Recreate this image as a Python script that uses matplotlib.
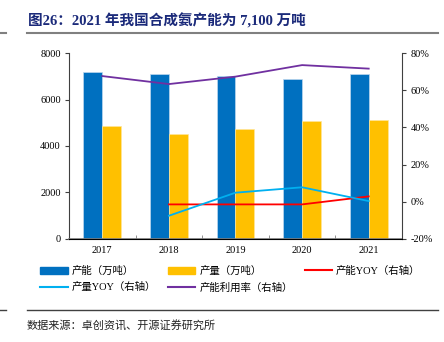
import matplotlib.pyplot as plt
import numpy as np
from matplotlib.lines import Line2D
from matplotlib.patches import Patch

plt.rcParams['font.family'] = ['Liberation Serif', 'Noto Sans CJK SC', 'DejaVu Sans']

years = ['2017', '2018', '2019', '2020', '2021']
capacity = [7180, 7100, 7010, 6900, 7100]
output = [4870, 4520, 4730, 5090, 5120]
capacity_yoy = [None, -1.4, -1.4, -1.4, 2.9]
output_yoy = [None, -7.5, 4.9, 7.8, 0.4]
utilization = [67.6, 63.3, 67.3, 73.5, 71.6]

blue = '#0070C0'
yellow = '#FFC000'
red = '#FF0000'
cyan = '#00B0F0'
purple = '#7030A0'
navy = '#1B2A7A'

fig = plt.figure(figsize=(4.44, 3.42), dpi=100)
ax = fig.add_axes([0.1554, 0.3012, 0.75, 0.5438])
ax2 = ax.twinx()

x = np.arange(len(years))
w = 0.285
ax.bar(x - w / 2, capacity, w, color=blue, edgecolor='#BDD7EE', linewidth=0.5, zorder=2)
ax.bar(x + w / 2, output, w, color=yellow, edgecolor='#FFE699', linewidth=0.5, zorder=2)

yrs = x[1:]
ax2.plot(yrs, capacity_yoy[1:], color=red, lw=1.3)
ax2.plot(yrs, output_yoy[1:], color=cyan, lw=1.3)
ax2.plot(x, utilization, color=purple, lw=1.3)

ax.set_xlim(-0.5, 4.5)
ax.set_ylim(0, 8000)
ax.set_yticks([0, 2000, 4000, 6000, 8000])
ax2.set_ylim(-20, 80)
ax2.set_yticks([-20, 0, 20, 40, 60, 80])
ax2.set_yticklabels([f'{v}%' for v in range(-20, 81, 20)])

ax.set_xticks(x)
ax.set_xticklabels(years)
ax.set_xticks(np.arange(0.5, 4.5, 1), minor=True)
ax.tick_params(axis='x', which='major', length=0, labelsize=7.5, pad=5)
ax.tick_params(axis='x', which='minor', length=3, direction='in', color='#808080')
ax.tick_params(axis='y', labelsize=7.5, length=3, color='#404040', pad=3)
ax2.tick_params(axis='y', labelsize=7.5, length=3, color='#404040', pad=3)

for a in (ax, ax2):
    a.spines['top'].set_visible(False)
ax2.spines['left'].set_visible(False)
ax.spines['right'].set_visible(False)
ax.spines['left'].set_color('#404040')
ax2.spines['right'].set_color('#404040')
ax.spines['bottom'].set_color('#808080')
ax.spines['bottom'].set_linewidth(1.2)

handles = [
    Patch(color=blue), Patch(color=yellow), Line2D([], [], color=red, lw=1.5),
    Line2D([], [], color=cyan, lw=1.5), Line2D([], [], color=purple, lw=1.5),
]
labels = ['产能（万吨）', '产量（万吨）', '产能YOY（右轴）', '产量YOY（右轴）', '产能利用率（右轴）']
order = [0, 3, 1, 4, 2]
fig.legend([handles[i] for i in order], [labels[i] for i in order], ncol=3,
           loc='upper left', bbox_to_anchor=(0.07, 0.25), frameon=False,
           fontsize=7.5, handlelength=2.6, columnspacing=1.15, handletextpad=0.4,
           labelspacing=0.6)

fig.text(0.063, 0.94, '图26：2021 年我国合成氨产能为 7,100 万吨', color=navy,
         fontsize=10.5, fontweight='bold', va='center')
fig.add_artist(Line2D([27 / 444, 438 / 444], [1 - 33 / 342] * 2, color='#808080', lw=1.5))
fig.add_artist(Line2D([0, 6 / 444], [1 - 33 / 342] * 2, color='#808080', lw=1.5))
fig.add_artist(Line2D([27 / 444, 438 / 444], [1 - 310 / 342] * 2, color='#404040', lw=1))
fig.add_artist(Line2D([0, 6 / 444], [1 - 310 / 342] * 2, color='#404040', lw=1))
fig.text(27 / 444, 1 - 326 / 342, '数据来源：卓创资讯、开源证券研究所', fontsize=8,
         color='#222222', va='center')

fig.savefig('out.png', dpi=100)
